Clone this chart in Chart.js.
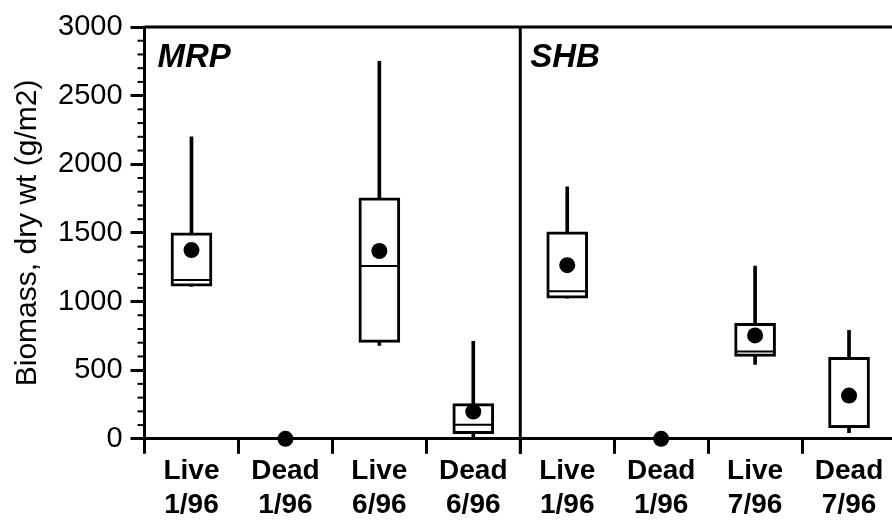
<!DOCTYPE html>
<html>
<head>
<meta charset="utf-8">
<script src="https://cdn.jsdelivr.net/npm/chart.js"></script>
<style>
  body { margin: 0; background: #fff; overflow: hidden; }
  #wrap { width: 918px; height: 527px; }
</style>
</head>
<body>
<div id="wrap"><canvas id="grafico"></canvas></div>
<script>
// categories (two sites: MRP first four, SHB last four)
const categorias = [
    ['Live', '1/96'], ['Dead', '1/96'], ['Live', '6/96'], ['Dead', '6/96'],
    ['Live', '1/96'], ['Dead', '1/96'], ['Live', '7/96'], ['Dead', '7/96']
];
const paineis = ['MRP', 'SHB'];

// box plot values (g/m2)
const bigodeMin = [1110, null, 680, 15, 1024, null, 541, 44];
const bigodeMax = [2200, null, 2750, 710, 1836, null, 1258, 790];
const quartil1 = [1112, null, 702, 37, 1024, null, 600, 80];
const quartil3 = [1500, null, 1756, 256, 1507, null, 841, 593];
const mediana = [1156, null, 1258, 102, 1075, null, 636, 92];
const media = [1375, 0, 1368, 198, 1265, 0, 753, 315];

const marcasY = [0, 500, 1000, 1500, 2000, 2500, 3000];

const bigodes = bigodeMin.map((v, i) => v === null ? null : [v, bigodeMax[i]]);
const caixas = quartil1.map((v, i) => v === null ? null : [v, quartil3[i]]);

const extras = {
    id: 'extras',
    afterDraw(chart) {
        const ctx = chart.ctx;
        const area = chart.chartArea;
        const x = chart.scales.x;
        const y = chart.scales.y;
        ctx.save();
        ctx.strokeStyle = '#000';

        // minor ticks every 100
        ctx.lineWidth = 2;
        for (let v = 0; v <= 3000; v += 100) {
            if (v % 500 === 0) continue;
            const py = y.getPixelForValue(v);
            ctx.beginPath();
            ctx.moveTo(area.left - 7, py);
            ctx.lineTo(area.left, py);
            ctx.stroke();
        }

        // top border
        ctx.lineWidth = 3;
        ctx.beginPath();
        ctx.moveTo(area.left, area.top);
        ctx.lineTo(area.right, area.top);
        ctx.stroke();

        // divider between the two panels
        const meio = (x.getPixelForValue(3) + x.getPixelForValue(4)) / 2;
        ctx.beginPath();
        ctx.moveTo(meio, area.top);
        ctx.lineTo(meio, area.bottom + 15);
        ctx.stroke();

        // panel names
        ctx.fillStyle = '#000';
        ctx.font = 'italic bold 33px "Liberation Sans", Arial, sans-serif';
        ctx.textBaseline = 'middle';
        ctx.textAlign = 'left';
        ctx.fillText(paineis[0], area.left + 13, area.top + 31);
        ctx.fillText(paineis[1], meio + 10, area.top + 31);
        ctx.restore();
    }
};

const ctx = document.getElementById('grafico');

new Chart(ctx, {
    type: 'bar',
    data: {
        labels: categorias,
        datasets: [
            {
                type: 'line',
                label: 'mean',
                data: media,
                showLine: false,
                pointRadius: 8,
                pointStyle: 'circle',
                pointBackgroundColor: '#000',
                pointBorderWidth: 0,
                clip: false,
                order: 0
            },
            {
                type: 'line',
                label: 'median',
                data: mediana,
                showLine: false,
                pointStyle: 'line',
                pointRadius: 20,
                pointBorderColor: '#000',
                pointBorderWidth: 2,
                order: 1
            },
            {
                label: 'box',
                data: caixas,
                backgroundColor: '#fff',
                borderColor: '#000',
                borderWidth: 3,
                borderSkipped: false,
                barThickness: 41,
                grouped: false,
                order: 2
            },
            {
                label: 'whisker',
                data: bigodes,
                backgroundColor: '#000',
                borderWidth: 0,
                barThickness: 3,
                grouped: false,
                order: 3
            }
        ]
    },
    options: {
        responsive: true,
        maintainAspectRatio: false,
        animation: false,
        layout: {
            padding: { top: 27, right: 0, bottom: 4, left: 10 }
        },
        plugins: {
            legend: { display: false },
            tooltip: { enabled: false }
        },
        scales: {
            x: {
                offset: true,
                grid: {
                    offset: true,
                    drawOnChartArea: false,
                    color: '#000',
                    lineWidth: 3,
                    tickLength: 15
                },
                border: { display: true, color: '#000', width: 3 },
                ticks: {
                    color: '#000',
                    padding: 1,
                    maxRotation: 0,
                    autoSkip: false,
                    font: { family: '"Liberation Sans", Arial, sans-serif', size: 28, weight: 'bold', lineHeight: 1.2 }
                }
            },
            y: {
                min: 0,
                max: 3000,
                afterBuildTicks(axis) {
                    axis.ticks = marcasY.map(v => ({ value: v }));
                },
                grid: {
                    drawOnChartArea: false,
                    color: '#000',
                    lineWidth: 3,
                    tickLength: 14
                },
                border: { display: true, color: '#000', width: 3 },
                ticks: {
                    color: '#000',
                    padding: 8,
                    callback: v => String(v),
                    font: { family: '"Liberation Sans", Arial, sans-serif', size: 29 }
                },
                title: {
                    display: true,
                    text: 'Biomass, dry wt (g/m2)',
                    color: '#000',
                    padding: { top: 0, bottom: 4 },
                    font: { family: '"Liberation Sans", Arial, sans-serif', size: 30 }
                }
            }
        }
    },
    plugins: [extras]
});
</script>
</body>
</html>
